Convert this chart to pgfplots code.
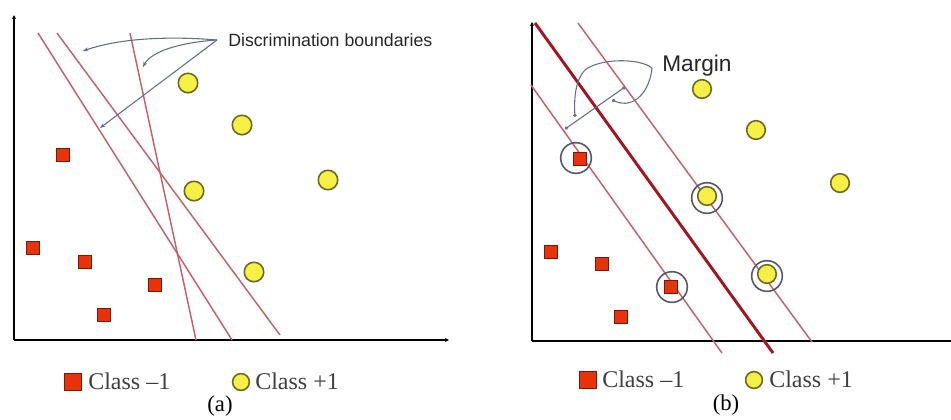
\documentclass[border=0pt]{standalone}
\usepackage{pgfplots}
\pgfplotsset{compat=1.18}
\usepackage{fontspec}
\setmainfont{Liberation Serif}
\newfontfamily\arial{Liberation Sans}
\usetikzlibrary{arrows.meta}

\definecolor{bnd}{RGB}{200,95,105}
\definecolor{mainln}{RGB}{165,20,30}
\definecolor{sqfill}{RGB}{232,50,10}
\definecolor{sqedge}{RGB}{120,25,10}
\definecolor{cifill}{RGB}{246,240,70}
\definecolor{ciedge}{RGB}{110,105,35}
\definecolor{ring}{RGB}{85,88,110}
\definecolor{annot}{RGB}{100,110,140}

\begin{document}
\begin{tikzpicture}
\begin{axis}[
    scale only axis,
    width=713.25pt, height=314.25pt,
    xmin=0, xmax=951, ymin=0, ymax=419,
    y dir=reverse,
    hide axis,
    clip=false,
]
% ---------- panel (a) ----------
% axes
\addplot[black, line width=1.4pt, -{Stealth[length=3pt,width=3pt]}] coordinates {(14,340) (14,15)};
\addplot[black, line width=1.4pt, -{Stealth[length=3pt,width=3pt]}] coordinates {(14,340) (449,340)};
% discrimination boundaries
\addplot[bnd, line width=1.1pt] coordinates {(38,33) (232,340)};
\addplot[bnd, line width=1.1pt] coordinates {(57,33) (280,335)};
\addplot[bnd, line width=1.1pt] coordinates {(130,33) (196,340)};
% class -1
\addplot[only marks, mark=square*, mark size=5pt,
    mark options={fill=sqfill, draw=sqedge, line width=0.8pt}]
    coordinates {(63,155) (33,248) (85,262) (155,285) (104,315)};
% class +1
\addplot[only marks, mark=*, mark size=7.3pt,
    mark options={fill=cifill, draw=ciedge, line width=1.2pt}]
    coordinates {(188,83) (242,125) (194,191) (328,180) (254,272)};
% annotation
\node[anchor=base west, inner sep=0pt, font=\arial\fontsize{13.3pt}{15pt}\selectfont, text=black!85]
    at (axis cs:228,46) {Discrimination boundaries};
\draw[annot, line width=0.8pt, -{Stealth[length=4pt,width=3pt]}]
    (axis cs:217,40) .. controls (axis cs:170,36) and (axis cs:120,38) .. (axis cs:83,51);
\draw[annot, line width=0.8pt, -{Stealth[length=4pt,width=3pt]}]
    (axis cs:217,40) .. controls (axis cs:185,42) and (axis cs:152,50) .. (axis cs:143,67);
\draw[annot, line width=0.8pt, -{Stealth[length=4pt,width=3pt]}]
    (axis cs:217,40) -- (axis cs:100,128);
% legend
\addplot[only marks, mark=square*, mark size=6.6pt,
    mark options={fill=sqfill, draw=sqedge, line width=0.8pt}] coordinates {(73,382)};
\addplot[only marks, mark=*, mark size=6.3pt,
    mark options={fill=cifill, draw=ciedge, line width=1.2pt}] coordinates {(241,382)};
\node[anchor=base west, inner sep=0pt, font=\fontsize{18pt}{20pt}\selectfont, text=black!75]
    at (axis cs:88,389) {Class –1};
\node[anchor=base west, inner sep=0pt, font=\fontsize{18pt}{20pt}\selectfont, text=black!75]
    at (axis cs:255,389) {Class +1};
\node[font=\fontsize{17pt}{19pt}\selectfont] at (axis cs:220,406) {(a)};

% ---------- panel (b) ----------
\addplot[black, line width=1.4pt, -{Stealth[length=3pt,width=3pt]}] coordinates {(532,341) (532,22)};
\addplot[black, line width=1.4pt] coordinates {(532,341) (951,341)};
% hyperplane and margins
\addplot[bnd, line width=1.1pt] coordinates {(578,23) (812,342)};
\addplot[bnd, line width=1.1pt] coordinates {(531,85) (722,353)};
\addplot[mainln, line width=2.2pt] coordinates {(535,23) (773,353)};
% class -1
\addplot[only marks, mark=square*, mark size=5pt,
    mark options={fill=sqfill, draw=sqedge, line width=0.8pt}]
    coordinates {(580,159) (551,252) (602,264) (671,287) (621,317)};
% class +1
\addplot[only marks, mark=*, mark size=7pt,
    mark options={fill=cifill, draw=ciedge, line width=1.2pt}]
    coordinates {(702,89) (756,130) (840,183) (707,196) (767,274)};
% support vectors
\addplot[only marks, mark=o, mark size=11.5pt,
    mark options={draw=ring, line width=1.2pt}]
    coordinates {(576,158) (672,287) (707,198) (767,276)};
% margin annotation
\node[anchor=base west, inner sep=0pt, font=\arial\fontsize{17pt}{19pt}\selectfont, text=black!85]
    at (axis cs:662,71) {Margin};
\draw[annot, line width=0.8pt, {Circle[length=2.5pt]}-{Circle[length=2.5pt]}]
    (axis cs:565,129) -- (axis cs:625,87);
\draw[annot, line width=0.8pt, -{Circle[length=2.5pt]}]
    (axis cs:652,68) .. controls (axis cs:640,58) and (axis cs:600,58) .. (axis cs:585,70)
    .. controls (axis cs:575,80) and (axis cs:574,100) .. (axis cs:575,117);
\draw[annot, line width=0.8pt, -{Circle[length=2.5pt]}]
    (axis cs:652,68) .. controls (axis cs:650,90) and (axis cs:635,110) .. (axis cs:612,100);
% legend
\addplot[only marks, mark=square*, mark size=6.6pt,
    mark options={fill=sqfill, draw=sqedge, line width=0.8pt}] coordinates {(588,380)};
\addplot[only marks, mark=*, mark size=6.3pt,
    mark options={fill=cifill, draw=ciedge, line width=1.2pt}] coordinates {(754,380)};
\node[anchor=base west, inner sep=0pt, font=\fontsize{18pt}{20pt}\selectfont, text=black!75]
    at (axis cs:602,387) {Class –1};
\node[anchor=base west, inner sep=0pt, font=\fontsize{18pt}{20pt}\selectfont, text=black!75]
    at (axis cs:769,387) {Class +1};
\node[font=\fontsize{17pt}{19pt}\selectfont] at (axis cs:726,405) {(b)};
\end{axis}
\pgfresetboundingbox
\path (0,0) rectangle (713.25pt,314.25pt);
\end{tikzpicture}
\end{document}
